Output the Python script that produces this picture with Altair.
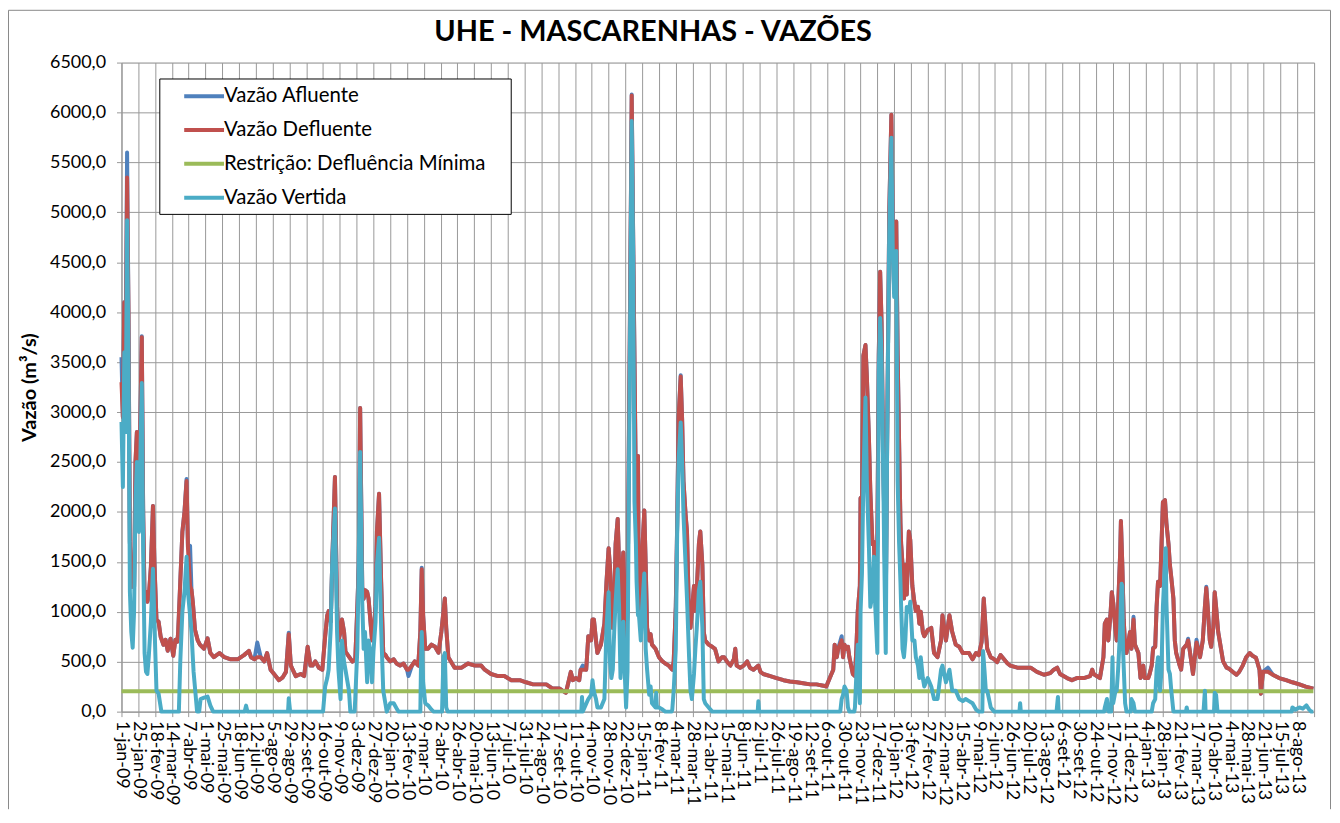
import altair as alt
import pandas as pd

# ---------------- dados ----------------
titulo = "UHE - MASCARENHAS - VAZÕES"
titulo_y = "Vazão (m³/s)"
series = ["Vazão Afluente", "Vazão Defluente", "Restrição: Defluência Mínima", "Vazão Vertida"]
cores = ["#4F81BD", "#C0504D", "#9BBB59", "#4BACC6"]

# dia contado a partir de 1-jan-09
dias = [
    0, 2, 4, 6, 8, 10, 12, 14, 16, 18,
    20, 22, 25, 29, 31, 33, 35, 37, 39, 42,
    45, 47, 50, 53, 56, 60, 63, 66, 70, 74,
    77, 80, 81, 84, 87, 90, 93, 95, 98, 100,
    102, 105, 109, 112, 118, 123, 127, 132, 140, 147,
    156, 166, 175, 182, 185, 190, 194, 199, 204, 208,
    213, 218, 225, 230, 235, 239, 242, 249, 256, 261,
    266, 270, 273, 277, 282, 287, 291, 294, 296, 299,
    301, 305, 308, 310, 313, 315, 318, 320, 325, 330,
    334, 337, 339, 341, 344, 346, 348, 351, 353, 355,
    358, 360, 363, 365, 368, 371, 374, 377, 379, 384,
    389, 393, 398, 403, 408, 410, 415, 419, 424, 427,
    429, 431, 434, 438, 443, 448, 453, 457, 460, 462,
    464, 467, 476, 486, 495, 505, 514, 519, 528, 538,
    547, 557, 569, 578, 588, 597, 607, 616, 626, 630,
    635, 640, 642, 645, 649, 654, 656, 659, 664, 667,
    671, 673, 675, 678, 680, 685, 690, 693, 696, 698,
    700, 702, 704, 706, 709, 711, 713, 716, 717, 719,
    721, 723, 725, 728, 729, 731, 733, 735, 736, 738,
    739, 742, 744, 747, 749, 751, 754, 756, 758, 763,
    768, 773, 777, 782, 787, 789, 792, 794, 796, 799,
    801, 803, 806, 808, 811, 813, 815, 818, 820, 822,
    825, 827, 830, 832, 834, 839, 844, 848, 853, 858,
    861, 865, 870, 875, 877, 879, 884, 889, 894, 898,
    903, 910, 913, 917, 927, 936, 946, 955, 965, 974,
    984, 993, 1003, 1007, 1012, 1017, 1019, 1022, 1024, 1029,
    1031, 1033, 1036, 1038, 1040, 1045, 1048, 1050, 1052, 1055,
    1056, 1058, 1060, 1063, 1065, 1068, 1070, 1073, 1075, 1077,
    1080, 1082, 1084, 1086, 1088, 1090, 1092, 1094, 1095, 1097,
    1100, 1102, 1104, 1107, 1109, 1111, 1113, 1114, 1116, 1118,
    1120, 1122, 1125, 1127, 1130, 1133, 1135, 1138, 1140, 1142,
    1145, 1147, 1152, 1157, 1161, 1166, 1171, 1173, 1178, 1183,
    1187, 1192, 1197, 1202, 1206, 1211, 1216, 1221, 1225, 1229,
    1232, 1235, 1237, 1242, 1247, 1251, 1256, 1261, 1266, 1270,
    1280, 1289, 1299, 1308, 1318, 1327, 1332, 1337, 1341, 1346,
    1351, 1358, 1365, 1375, 1384, 1387, 1389, 1398, 1403, 1405,
    1408, 1410, 1413, 1415, 1417, 1420, 1422, 1424, 1427, 1428,
    1430, 1432, 1434, 1436, 1441, 1443, 1446, 1448, 1453, 1456,
    1460, 1462, 1467, 1469, 1472, 1474, 1477, 1479, 1481, 1484,
    1486, 1488, 1491, 1493, 1496, 1498, 1500, 1503, 1505, 1507,
    1512, 1514, 1517, 1522, 1524, 1526, 1531, 1536, 1541, 1545,
    1548, 1550, 1552, 1555, 1557, 1560, 1562, 1564, 1567, 1569,
    1574, 1579, 1583, 1588, 1593, 1597, 1602, 1607, 1612, 1616,
    1621, 1626, 1628, 1631, 1638, 1645, 1654, 1664, 1673, 1683,
    1692, 1703,
]

defluente = [
    3300, 2950, 4100, 3500, 5350, 4000, 1700, 1250, 1400, 1250,
    2500, 2800, 2100, 3750, 2000, 1130, 1200, 1100, 1150, 1450,
    2060, 1500, 920, 900, 750, 670, 720, 610, 730, 560,
    720, 700, 800, 1300, 1800, 2000, 2310, 1640, 1260, 1220,
    1090, 820, 713, 671, 630, 734, 587, 545, 587, 545,
    524, 524, 566, 608, 545, 524, 545, 545, 503, 587,
    420, 377, 315, 340, 398, 776, 461, 356, 377, 356,
    650, 461, 461, 503, 440, 420, 755, 965, 1007, 900,
    1468, 2349, 1049, 713, 797, 923, 800, 600, 550, 500,
    520, 1049, 1468, 3041, 1250, 1130, 1216, 1200, 1133, 965,
    713, 800, 1049, 1804, 2181, 1300, 587, 570, 545, 503,
    524, 482, 461, 482, 420, 420, 461, 503, 461, 797,
    1426, 965, 629, 629, 671, 650, 590, 797, 1000, 1133,
    839, 545, 440, 440, 482, 461, 461, 420, 377, 356,
    356, 315, 315, 294, 273, 273, 273, 231, 231, 210,
    189, 336, 398, 315, 336, 315, 420, 420, 420, 755,
    713, 923, 923, 713, 587, 671, 881, 1300, 1636, 1450,
    1091, 839, 1091, 1678, 1930, 1468, 839, 1468, 1594, 900,
    700, 1000, 2727, 5244, 6170, 4824, 3500, 2200, 1678, 2559,
    1258, 965, 1594, 2014, 1468, 839, 713, 776, 671, 629,
    545, 503, 482, 461, 420, 503, 1049, 1888, 2937, 3356,
    2937, 2307, 1972, 1804, 923, 839, 1007, 1258, 1007, 1216,
    1678, 1804, 1468, 797, 713, 671, 650, 629, 503, 545,
    545, 503, 461, 524, 629, 461, 440, 461, 503, 440,
    420, 461, 398, 377, 356, 336, 315, 302, 294, 285,
    273, 273, 260, 252, 336, 420, 671, 545, 629, 713,
    545, 671, 629, 650, 545, 377, 356, 629, 1007, 1258,
    2140, 2000, 3566, 3671, 3356, 2727, 2200, 1678, 1700, 1300,
    1700, 3566, 4405, 3900, 2727, 1888, 1049, 2727, 3482, 5000,
    5978, 4824, 4200, 4908, 3566, 2727, 1888, 1678, 1468, 1133,
    1468, 1174, 1804, 1720, 1258, 1091, 1007, 1049, 881, 1000,
    797, 755, 818, 839, 587, 545, 713, 965, 713, 965,
    797, 671, 650, 587, 587, 587, 524, 587, 566, 700,
    1133, 797, 629, 545, 524, 495, 566, 524, 482, 461,
    440, 440, 440, 398, 369, 386, 420, 440, 377, 356,
    336, 315, 336, 336, 356, 420, 377, 336, 545, 881,
    923, 713, 965, 1196, 1091, 839, 713, 1049, 1600, 1909,
    1468, 923, 650, 587, 797, 629, 923, 671, 587, 336,
    461, 336, 336, 377, 461, 629, 650, 1049, 1300, 1258,
    1678, 2097, 2118, 1888, 1678, 1468, 1342, 1133, 713, 587,
    461, 420, 629, 671, 713, 629, 377, 692, 545, 713,
    1049, 1237, 1049, 713, 650, 839, 1196, 1049, 797, 713,
    503, 440, 428, 398, 369, 398, 461, 545, 587, 560,
    540, 420, 180, 400, 400, 370, 336, 315, 294, 273,
    250, 231,
]

afluente = [
    3550, 2950, 4100, 3500, 5600, 4000, 1700, 1250, 1400, 1250,
    2500, 2800, 2100, 3760, 2000, 1130, 1200, 1100, 1150, 1450,
    2060, 1500, 920, 900, 750, 670, 720, 610, 730, 560,
    720, 700, 800, 1300, 1800, 2000, 2330, 1640, 1660, 1220,
    1090, 820, 713, 671, 630, 734, 587, 545, 587, 545,
    524, 524, 566, 608, 545, 524, 692, 545, 503, 587,
    420, 377, 315, 340, 398, 790, 461, 356, 377, 356,
    650, 461, 461, 503, 440, 420, 755, 965, 1007, 900,
    1468, 2349, 1049, 713, 797, 923, 800, 600, 550, 500,
    520, 1049, 1468, 3041, 1250, 1130, 1216, 1200, 1133, 965,
    713, 800, 1049, 1804, 2181, 1300, 587, 570, 545, 503,
    524, 482, 461, 482, 420, 356, 461, 503, 461, 797,
    1440, 965, 629, 629, 671, 650, 590, 797, 1000, 1133,
    839, 545, 440, 440, 482, 461, 461, 420, 377, 356,
    356, 315, 315, 294, 273, 273, 273, 231, 231, 210,
    189, 336, 398, 315, 336, 315, 420, 461, 420, 755,
    713, 923, 923, 713, 587, 671, 881, 1300, 1636, 1450,
    1091, 839, 1091, 1678, 1930, 1468, 839, 1468, 1594, 900,
    700, 1000, 2727, 5244, 6180, 4824, 3500, 2200, 1678, 2559,
    1258, 965, 1594, 2014, 1468, 839, 713, 776, 671, 629,
    545, 503, 482, 461, 420, 503, 1049, 1888, 2937, 3370,
    2937, 2307, 1972, 1804, 923, 839, 1007, 1258, 1007, 1216,
    1678, 1804, 1468, 797, 713, 671, 650, 629, 503, 545,
    545, 503, 461, 524, 629, 461, 440, 461, 503, 440,
    420, 461, 398, 377, 356, 336, 315, 302, 294, 285,
    273, 273, 260, 252, 336, 420, 671, 545, 629, 755,
    545, 671, 629, 650, 545, 377, 356, 629, 1007, 1258,
    2140, 2000, 3566, 3671, 3356, 2727, 2200, 1678, 1700, 1300,
    1700, 3566, 4405, 3900, 2727, 1888, 1049, 2727, 3482, 5000,
    5978, 4824, 4200, 4908, 3566, 2727, 1888, 1678, 1468, 1133,
    1468, 1174, 1804, 1720, 1258, 1091, 1007, 1049, 881, 1000,
    797, 755, 818, 839, 587, 545, 713, 965, 713, 965,
    797, 671, 650, 587, 587, 587, 524, 587, 566, 700,
    1133, 797, 629, 545, 524, 495, 566, 524, 482, 461,
    440, 440, 440, 398, 369, 386, 420, 440, 377, 356,
    336, 315, 336, 336, 356, 420, 377, 336, 545, 881,
    923, 713, 965, 1196, 1091, 839, 713, 1049, 1600, 1909,
    1468, 923, 650, 587, 797, 629, 950, 671, 587, 336,
    461, 336, 336, 377, 461, 640, 650, 1049, 1300, 1258,
    1678, 2097, 2118, 1888, 1678, 1468, 1342, 1133, 713, 587,
    461, 420, 629, 671, 730, 629, 377, 720, 545, 713,
    1049, 1250, 1049, 713, 650, 839, 1196, 1049, 797, 713,
    503, 440, 428, 398, 369, 398, 461, 545, 587, 560,
    540, 420, 180, 400, 440, 370, 336, 315, 294, 273,
    250, 231,
]

dias_vertida = [
    0, 2, 4, 6, 8, 10, 12, 14, 16, 18,
    20, 22, 25, 29, 31, 33, 35, 37, 39, 42,
    45, 47, 50, 53, 57, 82, 84, 87, 90, 93,
    95, 98, 100, 103, 108, 111, 113, 118, 123, 127,
    131, 176, 178, 180, 238, 239, 241, 288, 291, 294,
    296, 299, 301, 305, 308, 310, 313, 315, 318, 320,
    325, 327, 333, 334, 337, 339, 341, 344, 346, 348,
    351, 353, 355, 358, 360, 363, 365, 368, 371, 374,
    377, 379, 384, 389, 394, 396, 427, 428, 429, 431,
    434, 438, 443, 446, 458, 460, 462, 464, 466, 657,
    658, 659, 667, 671, 673, 675, 678, 680, 685, 690,
    693, 696, 698, 700, 702, 704, 706, 709, 711, 713,
    716, 717, 719, 721, 723, 725, 728, 729, 731, 733,
    735, 736, 738, 739, 742, 744, 747, 749, 751, 754,
    756, 758, 763, 764, 765, 768, 773, 777, 786, 787,
    789, 792, 794, 796, 799, 801, 803, 806, 808, 811,
    813, 815, 818, 820, 822, 825, 827, 830, 832, 834,
    839, 844, 909, 910, 911, 1027, 1029, 1031, 1033, 1036,
    1038, 1040, 1047, 1048, 1050, 1052, 1055, 1056, 1058, 1060,
    1063, 1065, 1068, 1070, 1073, 1075, 1077, 1080, 1082, 1084,
    1086, 1088, 1090, 1092, 1094, 1095, 1097, 1100, 1102, 1104,
    1107, 1109, 1111, 1113, 1114, 1116, 1118, 1120, 1122, 1125,
    1127, 1130, 1133, 1135, 1138, 1140, 1142, 1145, 1147, 1152,
    1157, 1161, 1166, 1171, 1173, 1178, 1183, 1187, 1192, 1197,
    1202, 1206, 1211, 1216, 1221, 1225, 1230, 1231, 1233, 1235,
    1237, 1242, 1247, 1283, 1284, 1285, 1336, 1338, 1339, 1404,
    1405, 1408, 1410, 1414, 1415, 1416, 1417, 1420, 1422, 1424,
    1427, 1428, 1429, 1430, 1431, 1434, 1436, 1442, 1443, 1446,
    1448, 1472, 1474, 1477, 1479, 1481, 1484, 1486, 1488, 1491,
    1492, 1493, 1496, 1498, 1500, 1503, 1521, 1522, 1523, 1546,
    1548, 1549, 1561, 1562, 1564, 1566, 1672, 1673, 1677, 1683,
    1688, 1693, 1697, 1700, 1703,
]

vertida = [
    2900, 2250, 3600, 2800, 4920, 3600, 1200, 800, 640, 1000,
    2100, 2500, 1800, 3290, 1600, 587, 400, 377, 550, 900,
    1430, 900, 210, 180, 0, 0, 500, 1000, 1200, 1550,
    1200, 960, 800, 400, 0, 0, 126, 140, 150, 60,
    0, 0, 60, 0, 0, 134, 0, 0, 252, 336,
    420, 839, 1468, 2035, 800, 420, 126, 713, 500, 420,
    210, 0, 0, 126, 629, 1468, 2601, 1100, 629, 797,
    294, 713, 629, 294, 600, 900, 1468, 1741, 839, 210,
    84, 0, 84, 84, 20, 0, 0, 500, 797, 294,
    84, 63, 20, 0, 0, 545, 587, 42, 0, 0,
    147, 0, 126, 168, 315, 200, 126, 42, 42, 126,
    839, 1196, 500, 336, 420, 800, 1100, 1426, 1049, 336,
    797, 900, 400, 42, 400, 2307, 5000, 5915, 4614, 2097,
    1678, 1300, 965, 1000, 713, 1049, 1384, 629, 420, 168,
    252, 84, 42, 189, 42, 42, 21, 0, 0, 21,
    210, 629, 1800, 2517, 2895, 2517, 1972, 1468, 1133, 545,
    210, 126, 377, 629, 839, 1216, 1300, 839, 126, 84,
    42, 0, 0, 105, 0, 0, 126, 168, 252, 210,
    42, 0, 0, 42, 377, 671, 84, 1000, 1384, 2307,
    3146, 2307, 1636, 1049, 1175, 1550, 1049, 587, 3400, 3943,
    3566, 2600, 1468, 587, 2700, 3400, 4800, 5747, 4614, 4153,
    4614, 2307, 1700, 1300, 1049, 629, 545, 713, 1049, 1000,
    1100, 713, 713, 545, 461, 336, 545, 336, 252, 336,
    252, 126, 126, 420, 461, 294, 420, 210, 210, 126,
    105, 126, 105, 84, 21, 0, 0, 608, 420, 210,
    210, 42, 0, 0, 84, 0, 0, 147, 0, 0,
    42, 126, 0, 0, 252, 545, 84, 200, 210, 420,
    839, 1100, 1280, 1258, 629, 84, 0, 0, 126, 84,
    0, 0, 84, 126, 420, 545, 210, 420, 1049, 1500,
    1636, 1100, 420, 377, 210, 0, 0, 42, 0, 0,
    210, 0, 0, 189, 168, 0, 0, 42, 20, 42,
    30, 63, 20, 0, 0,
]

restricao = 205          # defluência mínima (m³/s)
dias_restricao = [0, 1703]

rotulos_x = [
    "1-jan-09", "25-jan-09", "18-fev-09", "14-mar-09", "7-abr-09", "1-mai-09", "25-mai-09",
    "18-jun-09", "12-jul-09", "5-ago-09", "29-ago-09", "22-set-09", "16-out-09", "9-nov-09",
    "3-dez-09", "27-dez-09", "20-jan-10", "13-fev-10", "9-mar-10", "2-abr-10", "26-abr-10",
    "20-mai-10", "13-jun-10", "7-jul-10", "31-jul-10", "24-ago-10", "17-set-10", "11-out-10",
    "4-nov-10", "28-nov-10", "22-dez-10", "15-jan-11", "8-fev-11", "4-mar-11", "28-mar-11",
    "21-abr-11", "15-mai-11", "8-jun-11", "2-jul-11", "26-jul-11", "19-ago-11", "12-set-11",
    "6-out-11", "30-out-11", "23-nov-11", "17-dez-11", "10-jan-12", "3-fev-12", "27-fev-12",
    "22-mar-12", "15-abr-12", "9-mai-12", "2-jun-12", "26-jun-12", "20-jul-12", "13-ago-12",
    "6-set-12", "30-set-12", "24-out-12", "17-nov-12", "11-dez-12", "4-jan-13", "28-jan-13",
    "21-fev-13", "17-mar-13", "10-abr-13", "4-mai-13", "28-mai-13", "21-jun-13", "15-jul-13",
    "8-ago-13",
]
passo_x = 24
fim_x = 1704

assert len(dias) == len(defluente) == len(afluente)
assert len(dias_vertida) == len(vertida)

# ---------------- tabelas ----------------
def tabela(nome, ds, vs):
    return pd.DataFrame({"serie": nome, "dia": ds, "vazao": vs})

df_afl = tabela(series[0], dias, afluente)
df_def = tabela(series[1], dias, defluente)
df_res = tabela(series[2], dias_restricao, [restricao] * len(dias_restricao))
df_ver = tabela(series[3], dias_vertida, vertida)

# ---------------- layout ----------------
FONT = "Lato"
W, H = 1198, 652
OX, OY = 122, 61           # page position of plot origin
GRID = "#989898"
LEG_FS = 20.5
PAD_B = 98
BOTTOM = OY + H + PAD_B    # page y of svg bottom

ticks_x = list(range(0, fim_x + 1, passo_x))
js_rot = "[" + ",".join("'" + r + "'" for r in rotulos_x) + "]"

x_enc = alt.X(
    "dia:Q",
    scale=alt.Scale(domain=[0, fim_x], nice=False, zero=False),
    axis=alt.Axis(
        values=ticks_x,
        labelExpr=js_rot + "[round(datum.value/" + str(passo_x) + ")] || ''",
        labelAngle=90, labelAlign="left", labelBaseline="middle",
        labelPadding=4, labelFont=FONT, labelFontSize=18, labelColor="black",
        labelOverlap=False, labelFlush=False, labelBound=False,
        tickSize=5, tickColor=GRID, domainColor=GRID, gridColor=GRID,
        grid=True, title=None,
    ),
)
y_enc = alt.Y(
    "vazao:Q",
    scale=alt.Scale(domain=[0, 6500], nice=False, zero=True),
    axis=alt.Axis(
        values=list(range(0, 6501, 500)),
        labelExpr="replace(format(datum.value, '.1f'), '.', ',')",
        labelFont=FONT, labelFontSize=18, labelColor="black", labelPadding=11,
        labelFlush=False, labelOverlap=False,
        tickSize=5, tickColor=GRID, domainColor=GRID, gridColor=GRID, grid=True,
        title=titulo_y, titleFont=FONT, titleFontSize=20, titleFontWeight="bold",
        titleColor="black", titleAngle=-90, titleAlign="center", titleBaseline="middle",
        titleX=30 - OX, titleY=387 - OY,
    ),
)
legenda = alt.Legend(
    orient="none", legendX=183 - OX + 10, legendY=93 - LEG_FS / 2 - OY, title=None,
    symbolType="M-2,0H2", symbolSize=400, symbolStrokeWidth=4,
    labelFont=FONT, labelFontSize=LEG_FS, labelColor="black", labelOffset=8,
    labelLimit=500, rowPadding=11, padding=0,
)
cor = alt.Color("serie:N", scale=alt.Scale(domain=series, range=cores), legend=legenda)

um = pd.DataFrame({"a": [0]})

# chart-area outline (left, top, right; bottom edge lies below the visible page)
BORDA = "#888888"
borda_esq = alt.Chart(um).mark_rule(color=BORDA, strokeWidth=1).encode(
    x=alt.value(8.5 - OX), y=alt.value(8.5 - OY), y2=alt.value(BOTTOM - OY))
borda_dir = alt.Chart(um).mark_rule(color=BORDA, strokeWidth=1).encode(
    x=alt.value(1336.5 - OX), y=alt.value(8.5 - OY), y2=alt.value(BOTTOM - OY))
borda_top = alt.Chart(um).mark_rule(color=BORDA, strokeWidth=1).encode(
    x=alt.value(8.5 - OX), x2=alt.value(1336.5 - OX), y=alt.value(8.5 - OY))

caixa = alt.Chart(um).mark_rect(fill="white", stroke="black", strokeWidth=1).encode(
    x=alt.value(160.5 - OX), x2=alt.value(513.5 - OX),
    y=alt.value(77.5 - OY), y2=alt.value(213.5 - OY),
)
tit = alt.Chart(pd.DataFrame({"t": [titulo]})).mark_text(
    font=FONT, fontSize=29, fontWeight="bold", color="black", align="center", baseline="middle"
).encode(text="t:N", x=alt.value(656 - OX), y=alt.value(30 - OY))


def linha(df):
    return alt.Chart(df).mark_line(strokeWidth=4, strokeJoin="round").encode(
        x=x_enc, y=y_enc, color=cor
    )


chart = alt.layer(
    borda_esq, borda_dir, borda_top, caixa,
    linha(df_afl), linha(df_def), linha(df_res), linha(df_ver),
    tit,
).properties(
    width=W, height=H,
    autosize=alt.AutoSizeParams(type="none"),
    padding={"left": OX - 8, "top": OY - 8, "right": 18, "bottom": PAD_B},
).configure_view(stroke=None).configure(background="white")

chart.save("out.html", embed_options={"renderer": "svg", "actions": False})
